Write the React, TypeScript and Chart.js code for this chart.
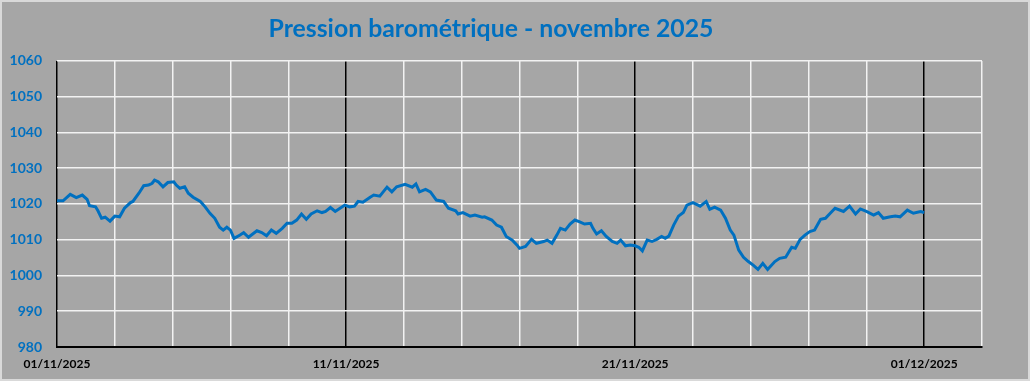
import { useEffect, useRef } from 'react';
import { Chart, registerables } from 'chart.js';

Chart.register(...registerables);

// Hours elapsed since 01/11/2025 00:00
const hours = [
  0, 5, 11, 16, 21, 25, 27, 32, 34, 37, 40, 44, 48, 52, 56, 61, 63, 68, 72, 76,
  79, 81, 84, 88, 92, 97, 99, 102, 106, 109, 113, 119, 123, 127, 131, 135, 138, 141, 144, 147,
  152, 155, 159, 166, 170, 174, 178, 182, 187, 191, 195, 199, 203, 207, 211, 216, 220, 223, 227, 231,
  235, 239, 243, 247, 250, 254, 260, 263, 268, 274, 278, 282, 289, 295, 298, 301, 306, 310, 315, 321,
  325, 331, 333, 337, 343, 347, 353, 355, 361, 365, 369, 373, 378, 382, 384, 389, 394, 398, 404, 407,
  411, 415, 418, 422, 426, 430, 434, 438, 443, 445, 448, 452, 456, 461, 465, 468, 472, 476, 480, 483,
  486, 490, 494, 498, 502, 505, 508, 512, 516, 520, 523, 528, 534, 539, 542, 546, 551, 555, 559, 562,
  566, 570, 574, 578, 582, 586, 590, 596, 600, 605, 610, 613, 617, 621, 625, 629, 634, 638, 642, 646,
  653, 658, 663, 667, 672, 678, 682, 686, 692, 696, 700, 706, 711, 717, 720,
];

// Barometric pressure (hPa)
const pressure = [
  1020.9, 1020.9, 1022.7, 1021.8, 1022.5, 1021.3, 1019.5, 1019.2, 1018.1, 1016.0,
  1016.3, 1015.2, 1016.6, 1016.4, 1018.8, 1020.4, 1020.7, 1023.0, 1025.1, 1025.3,
  1025.8, 1026.7, 1026.2, 1024.8, 1026.0, 1026.2, 1025.3, 1024.4, 1024.8, 1023.0,
  1021.9, 1020.7, 1019.2, 1017.4, 1016.0, 1013.5, 1012.7, 1013.5, 1012.7, 1010.4,
  1011.3, 1012.0, 1010.7, 1012.5, 1012.0, 1011.1, 1012.7, 1011.8, 1013.2, 1014.6,
  1014.6, 1015.5, 1017.2, 1015.7, 1017.2, 1018.1, 1017.6, 1017.9, 1019.0, 1017.9,
  1018.8, 1019.7, 1019.2, 1019.4, 1020.7, 1020.5, 1021.9, 1022.5, 1022.2, 1024.7,
  1023.4, 1024.8, 1025.5, 1024.7, 1025.6, 1023.4, 1024.1, 1023.4, 1021.1, 1020.7,
  1018.8, 1018.1, 1017.2, 1017.6, 1016.6, 1016.9, 1016.3, 1016.4, 1015.5, 1014.1,
  1013.5, 1010.9, 1009.9, 1008.5, 1007.6, 1008.1, 1010.1, 1009.0, 1009.5, 1009.9,
  1009.0, 1011.3, 1013.2, 1012.7, 1014.4, 1015.5, 1015.0, 1014.4, 1014.6, 1013.2,
  1011.6, 1012.5, 1010.9, 1009.5, 1009.0, 1009.9, 1008.3, 1008.5, 1008.3, 1007.9,
  1006.9, 1009.9, 1009.5, 1010.1, 1010.9, 1010.4, 1011.0, 1014.1, 1016.6, 1017.6,
  1019.7, 1020.4, 1019.4, 1020.7, 1018.5, 1019.1, 1018.3, 1016.0, 1012.7, 1011.3,
  1007.1, 1005.1, 1003.9, 1002.9, 1001.7, 1003.4, 1001.7, 1003.9, 1004.8, 1005.1,
  1007.9, 1007.6, 1010.1, 1011.3, 1012.3, 1012.7, 1015.7, 1016.0, 1017.4, 1018.8,
  1017.9, 1019.4, 1017.2, 1018.6, 1017.9, 1016.9, 1017.6, 1016.0, 1016.4, 1016.6,
  1016.4, 1018.3, 1017.4, 1017.9, 1017.6,
];

const dateTickHours = [0, 240, 480, 720];
const dateTickLabels = ['01/11/2025', '11/11/2025', '21/11/2025', '01/12/2025'];
const chartTitle = 'Pression barométrique - novembre 2025';

const BLUE = '#0070C0';
const BG = '#A6A6A6';
const GRID = '#F2F2F2';

const backgroundPlugin = {
  id: 'bgFrame',
  beforeDraw(chart: any) {
    const { ctx, width, height } = chart;
    ctx.save();
    ctx.fillStyle = BG;
    ctx.fillRect(0, 0, width, height);
    ctx.strokeStyle = '#D9D9D9';
    ctx.lineWidth = 2;
    ctx.strokeRect(1, 1, width - 2, height - 2);
    ctx.restore();
  },
};

export default function App() {
  const canvasRef = useRef<HTMLCanvasElement | null>(null);

  useEffect(() => {
    document.body.style.margin = '0';
    const canvas = canvasRef.current;
    if (!canvas) return;
    const chart = new Chart(canvas, {
      type: 'line',
      data: {
        datasets: [
          {
            data: hours.map((h, i) => ({ x: h, y: pressure[i] })),
            borderColor: BLUE,
            borderWidth: 3,
            pointRadius: 0,
            tension: 0,
            fill: false,
          },
        ],
      },
      options: {
        animation: false,
        responsive: false,
        maintainAspectRatio: false,
        layout: { padding: { left: 0, right: 48, top: 0, bottom: 0 } },
        plugins: {
          legend: { display: false },
          tooltip: { enabled: false },
          title: {
            display: true,
            text: chartTitle,
            color: BLUE,
            font: { family: 'Lato', size: 24.8, weight: 'bold', lineHeight: 1.2 },
            padding: { top: 14, bottom: 17.2 },
          },
        },
        scales: {
          x: {
            type: 'linear',
            min: 0,
            max: 768,
            ticks: {
              stepSize: 48,
              autoSkip: false,
              maxRotation: 0,
              color: '#000000',
              font: { family: 'Lato', size: 12, weight: 'bold' },
              padding: 10,
              callback: (v: any) => {
                const idx = dateTickHours.indexOf(Number(v));
                return idx >= 0 ? dateTickLabels[idx] : '';
              },
            },
            grid: {
              color: (ctx: any) => (ctx.tick && ctx.tick.value % 240 === 0 ? '#000000' : GRID),
              lineWidth: 1.5,
              drawTicks: false,
            },
            border: { color: '#000000', width: 2 },
            afterFit: (s: any) => {
              s.height = 34;
            },
          },
          y: {
            min: 980,
            max: 1060,
            ticks: {
              stepSize: 10,
              color: BLUE,
              font: { family: 'Lato', size: 14, weight: 'bold' },
              padding: 15,
              callback: (v: any) => String(v),
            },
            grid: { color: GRID, lineWidth: 1.5, drawTicks: false },
            border: { display: false },
            afterFit: (s: any) => {
              s.width = 57;
            },
          },
        },
      },
      plugins: [backgroundPlugin],
    });
    return () => chart.destroy();
  }, []);

  return (
    <div style={{ position: 'fixed', left: 0, top: 0, width: 1030, height: 381 }}>
      <canvas ref={canvasRef} width={1030} height={381} />
    </div>
  );
}
